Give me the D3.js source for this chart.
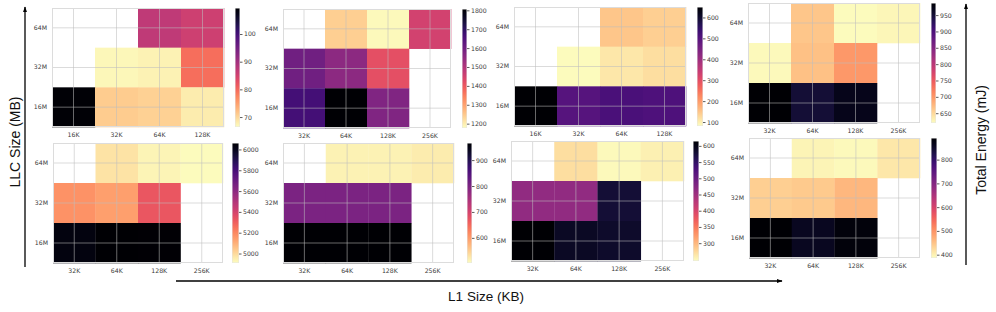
<!DOCTYPE html>
<html><head><meta charset="utf-8">
<script src="https://cdn.jsdelivr.net/npm/d3@7"></script>
<style>
html,body{margin:0;padding:0;background:#fff;}
svg{display:block;}
text{font-family:"DejaVu Sans",sans-serif;}
text.title{font-family:"Liberation Sans",Arial,sans-serif;}
</style></head>
<body>
<svg id="chart" width="996" height="312"></svg>
<script>
// ---- data ----
const llcLabels = ["64M", "32M", "16M"];
const l1A = ["16K", "32K", "64K", "128K"];
const l1B = ["32K", "64K", "128K", "256K"];

const vals1 = [[null, null, 87, 85.5], [null, 67, 67.5, 79.5], [109, 71, 70.5, 68]];
const vals2 = [[null, 1240, 1183, 1448], [1600, 1555, 1416, null], [1668, 1807, 1574, null]];
const vals3 = [[null, null, 149, 138], [null, 84, 109, 121], [650, 500, 515, 510]];
const vals4 = [[null, 664, 622, 627], [624, 668, 700, null], [987, 950, 969, null]];
const vals5 = [[null, 4975, 4932, 4918], [5174, 5140, 5324, null], [6027, 6062, 6055, null]];
const vals6 = [[null, 515, 515, 520], [800, 800, 800, null], [966, 966, 966, null]];
const vals7 = [[null, 271, 248, 256], [463, 463, 578, null], [615, 590, 585, null]];
const vals8 = [[null, 396, 390, 411], [436, 442, 462, null], [891, 861, 881, null]];

const domains = [[66.4, 109.4], [1177, 1807], [81, 650], [620, 987], [4909, 6062], [503, 966], [245, 615], [386, 891]];
const cbTicks = [
  [70, 80, 90, 100],
  [1200, 1300, 1400, 1500, 1600, 1700, 1800],
  [100, 200, 300, 400, 500, 600],
  [650, 700, 750, 800, 850, 900, 950],
  [5000, 5200, 5400, 5600, 5800, 6000],
  [600, 700, 800, 900],
  [300, 350, 400, 450, 500, 550, 600],
  [400, 500, 600, 700, 800]
];

const panelVals = [vals1, vals2, vals3, vals4, vals5, vals6, vals7, vals8];
const panelX = [l1A, l1B, l1A, l1B, l1B, l1B, l1B, l1B];

// ---- layout ----
const layout = [
  {x0: 52, x1: 224, y0: 8, y1: 127, c0: 235, c1: 240},
  {x0: 283, x1: 451, y0: 9, y1: 128, c0: 462, c1: 467},
  {x0: 514, x1: 686, y0: 7, y1: 126, c0: 697, c1: 703},
  {x0: 748, x1: 920, y0: 3, y1: 123, c0: 931, c1: 936},
  {x0: 53, x1: 223, y0: 143, y1: 263, c0: 232, c1: 239},
  {x0: 283, x1: 454, y0: 143, y1: 263, c0: 467, c1: 472},
  {x0: 511, x1: 684, y0: 141, y1: 261, c0: 693, c1: 699},
  {x0: 749, x1: 920, y0: 138, y1: 258, c0: 931, c1: 937}
];

const svg = d3.select("#chart");
const defs = svg.append("defs");

defs.append("marker").attr("id", "arr").attr("viewBox", "0 0 10 10")
  .attr("refX", 9).attr("refY", 5).attr("markerWidth", 6).attr("markerHeight", 6)
  .attr("markerUnits", "userSpaceOnUse").attr("orient", "auto")
  .append("path").attr("d", "M0,1.5 L10,5 L0,8.5 Z").attr("fill", "#000");

const grad = defs.append("linearGradient").attr("id", "cbgrad")
  .attr("x1", 0).attr("y1", 0).attr("x2", 0).attr("y2", 1);
d3.range(0, 1.0001, 0.05).forEach(t => {
  grad.append("stop").attr("offset", t).attr("stop-color", d3.interpolateMagma(t));
});

const tickColor = "#3a3a3a";
const fs = 6.2;

panelVals.forEach((vals, i) => {
  const L = layout[i];
  const xs = d3.scaleBand().domain(panelX[i]).range([L.x0, L.x1]);
  const ys = d3.scaleBand().domain(llcLabels).range([L.y0, L.y1]);
  const [mn, mx] = domains[i];
  const norm = d3.scaleLinear().domain([mn, mx]).range([0, 1]).clamp(true);
  const color = v => d3.interpolateMagma(1 - norm(v));
  const g = svg.append("g");

  g.append("rect").attr("x", L.x0).attr("y", L.y0)
    .attr("width", L.x1 - L.x0).attr("height", L.y1 - L.y0).attr("fill", "#fff");

  const cells = [];
  vals.forEach((row, r) => row.forEach((v, c) => {
    if (v !== null) cells.push({r: llcLabels[r], c: panelX[i][c], v});
  }));
  g.selectAll("rect.cell").data(cells).join("rect").attr("class", "cell")
    .attr("x", d => xs(d.c)).attr("y", d => ys(d.r))
    .attr("width", xs.bandwidth() + 0.3).attr("height", ys.bandwidth() + 0.3)
    .attr("fill", d => color(d.v));

  g.selectAll("line.vg").data(panelX[i]).join("line")
    .attr("x1", d => xs(d) + xs.bandwidth() / 2).attr("x2", d => xs(d) + xs.bandwidth() / 2)
    .attr("y1", L.y0).attr("y2", L.y1)
    .attr("stroke", "#bdbdbd").attr("stroke-opacity", 0.55).attr("stroke-width", 1);
  g.selectAll("line.hg").data(llcLabels).join("line")
    .attr("y1", d => ys(d) + ys.bandwidth() / 2).attr("y2", d => ys(d) + ys.bandwidth() / 2)
    .attr("x1", L.x0).attr("x2", L.x1)
    .attr("stroke", "#bdbdbd").attr("stroke-opacity", 0.55).attr("stroke-width", 1);

  g.append("rect").attr("x", L.x0 + 0.5).attr("y", L.y0 + 0.5)
    .attr("width", L.x1 - L.x0 - 1).attr("height", L.y1 - L.y0 - 1)
    .attr("fill", "none").attr("stroke", "#dcdcdc").attr("stroke-width", 1);

  const xAxis = d3.axisBottom(xs).tickSize(0).tickPadding(6);
  const xg = g.append("g").attr("transform", `translate(0,${L.y1})`).call(xAxis);
  xg.select(".domain").remove();
  xg.selectAll("text").attr("font-size", fs).attr("fill", tickColor);

  const yAxis = d3.axisLeft(ys).tickSize(0).tickPadding(5);
  const yg = g.append("g").attr("transform", `translate(${L.x0},0)`).call(yAxis);
  yg.select(".domain").remove();
  yg.selectAll("text").attr("font-size", fs).attr("fill", tickColor);

  const cs = d3.scaleLinear().domain([mn, mx]).range([L.y1, L.y0]);
  g.append("rect").attr("x", L.c0).attr("y", L.y0)
    .attr("width", L.c1 - L.c0).attr("height", L.y1 - L.y0)
    .attr("fill", "url(#cbgrad)");
  g.append("rect").attr("x", L.c0 + 0.25).attr("y", L.y0 + 0.25)
    .attr("width", L.c1 - L.c0 - 0.5).attr("height", L.y1 - L.y0 - 0.5)
    .attr("fill", "none").attr("stroke", "#e4e4e4").attr("stroke-width", 0.5);
  const cAxis = d3.axisRight(cs).tickValues(cbTicks[i]).tickSize(2.5).tickPadding(1.5).tickFormat(d3.format("d"));
  const cg = g.append("g").attr("transform", `translate(${L.c1},0)`).call(cAxis);
  cg.select(".domain").remove();
  cg.selectAll("line").attr("stroke", "#333").attr("stroke-width", 0.8);
  cg.selectAll("text").attr("font-size", fs).attr("fill", tickColor);
});

svg.append("line").attr("x1", 25).attr("y1", 267).attr("x2", 25).attr("y2", 7)
  .attr("stroke", "#000").attr("stroke-width", 1.3).attr("marker-end", "url(#arr)");
svg.append("line").attr("x1", 176).attr("y1", 281).attr("x2", 782).attr("y2", 281)
  .attr("stroke", "#000").attr("stroke-width", 1.3).attr("marker-end", "url(#arr)");
svg.append("line").attr("x1", 966).attr("y1", 265).attr("x2", 966).attr("y2", 4)
  .attr("stroke", "#000").attr("stroke-width", 1.3).attr("marker-end", "url(#arr)");

svg.append("text").attr("class", "title").attr("transform", "translate(20,142) rotate(-90)")
  .attr("text-anchor", "middle").attr("font-size", 14)
  .attr("fill", "#111").text("LLC Size (MB)");
svg.append("text").attr("class", "title").attr("x", 486).attr("y", 301)
  .attr("text-anchor", "middle").attr("font-size", 13.5)
  .attr("fill", "#111").text("L1 Size (KB)");
svg.append("text").attr("class", "title").attr("transform", "translate(986,140) rotate(-90)")
  .attr("text-anchor", "middle").attr("font-size", 14)
  .attr("fill", "#111").text("Total Energy (mJ)");
</script>
</body></html>
